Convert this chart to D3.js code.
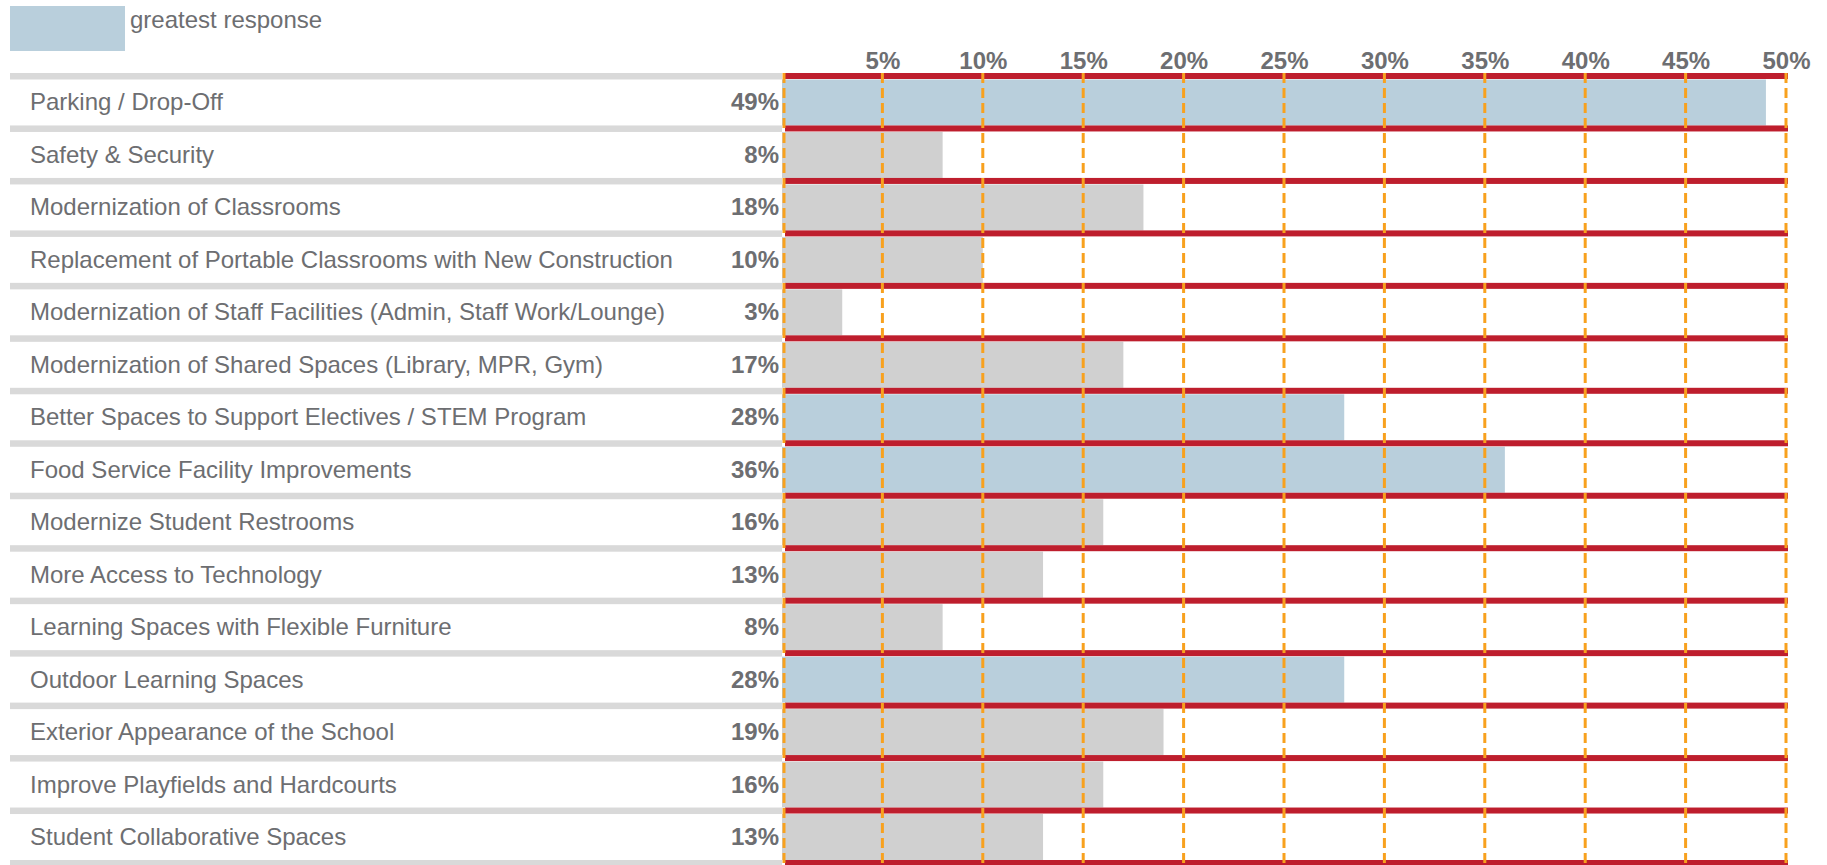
<!DOCTYPE html>
<meta charset="utf-8">
<script src="https://d3js.org/d3.v7.min.js"></script>
<style>
  body { margin: 0; background: #fff; }
  svg { display: block; font-family: "Liberation Sans", Arial, sans-serif; }
  .cat { fill: #6d6e71; font-size: 24px; }
  .val { fill: #6d6e71; font-size: 24px; font-weight: bold; text-anchor: end; }
  .xaxis text { fill: #6d6e71; font-size: 24px; font-weight: bold; }
  .xaxis path, .xaxis line { display: none; }
</style>
<body>
<div id="chart"></div>
<script>
  // data
  const categories = [
    "Parking / Drop-Off",
    "Safety & Security",
    "Modernization of Classrooms",
    "Replacement of Portable Classrooms with New Construction",
    "Modernization of Staff Facilities (Admin, Staff Work/Lounge)",
    "Modernization of Shared Spaces (Library, MPR, Gym)",
    "Better Spaces to Support Electives / STEM Program",
    "Food Service Facility Improvements",
    "Modernize Student Restrooms",
    "More Access to Technology",
    "Learning Spaces with Flexible Furniture",
    "Outdoor Learning Spaces",
    "Exterior Appearance of the School",
    "Improve Playfields and Hardcourts",
    "Student Collaborative Spaces"
  ];
  const values = [49, 8, 18, 10, 3, 17, 28, 36, 16, 13, 8, 28, 19, 16, 13];
  const greatest = [
    "Parking / Drop-Off",
    "Better Spaces to Support Electives / STEM Program",
    "Food Service Facility Improvements",
    "Outdoor Learning Spaces"
  ];
  const tickValues = [5, 10, 15, 20, 25, 30, 35, 40, 45, 50];
  const legendLabel = "greatest response";

  const width = 1827, height = 865;
  const rows = categories.map((c, i) => ({cat: c, val: values[i]}));

  const svg = d3.select("#chart").append("svg")
    .attr("width", width)
    .attr("height", height);

  const x = d3.scaleLinear().domain([0, 50]).range([782, 1786]);
  const y = d3.scaleBand().domain(categories).range([73, 860]).padding(0);
  const sep = 6.5;

  // legend
  svg.append("rect")
    .attr("x", 10).attr("y", 6)
    .attr("width", 115).attr("height", 45)
    .attr("fill", "#b9cfdc");
  svg.append("text")
    .attr("class", "cat")
    .attr("x", 130).attr("y", 28)
    .text(legendLabel);

  // gray separators on the label side
  const lineYs = categories.map(c => y(c)).concat([y.range()[1]]);
  svg.append("g").selectAll("rect")
    .data(lineYs)
    .join("rect")
    .attr("x", 10)
    .attr("y", d => d)
    .attr("width", x(0) - 10)
    .attr("height", sep)
    .attr("fill", "#d9d9d9");

  // bars
  svg.append("g").selectAll("rect")
    .data(rows)
    .join("rect")
    .attr("x", x(0))
    .attr("y", d => y(d.cat) + sep)
    .attr("width", d => x(d.val) - x(0))
    .attr("height", y.bandwidth() - sep)
    .attr("fill", d => greatest.includes(d.cat) ? "#b9cfdc" : "#d0d0d0");

  // red row lines in the plot area
  svg.append("g").selectAll("rect")
    .data(lineYs)
    .join("rect")
    .attr("x", x(0) + 3)
    .attr("y", d => d)
    .attr("width", x(50) - x(0) - 1)
    .attr("height", sep - 0.5)
    .attr("fill", "#be1e2d");

  // orange dashed grid
  svg.append("g").selectAll("line")
    .data([0].concat(tickValues))
    .join("line")
    .attr("x1", d => x(d) + (d === 0 ? 2 : 0))
    .attr("x2", d => x(d) + (d === 0 ? 2 : 0))
    .attr("y1", 73)
    .attr("y2", height)
    .attr("stroke", "#f8a11e")
    .attr("stroke-width", 3)
    .attr("stroke-dasharray", "10,5");

  // top axis labels
  svg.append("g")
    .attr("class", "xaxis")
    .attr("transform", "translate(0,69)")
    .call(d3.axisTop(x).tickValues(tickValues).tickSize(0).tickPadding(0)
      .tickFormat(d => d + "%"));

  // category labels
  svg.append("g").selectAll("text")
    .data(rows)
    .join("text")
    .attr("class", "cat")
    .attr("x", 30)
    .attr("y", d => y(d.cat) + sep + (y.bandwidth() - sep) / 2 + 8)
    .text(d => d.cat);

  // value labels
  svg.append("g").selectAll("text")
    .data(rows)
    .join("text")
    .attr("class", "val")
    .attr("x", 779)
    .attr("y", d => y(d.cat) + sep + (y.bandwidth() - sep) / 2 + 8)
    .text(d => d.val + "%");
</script>
</body>
